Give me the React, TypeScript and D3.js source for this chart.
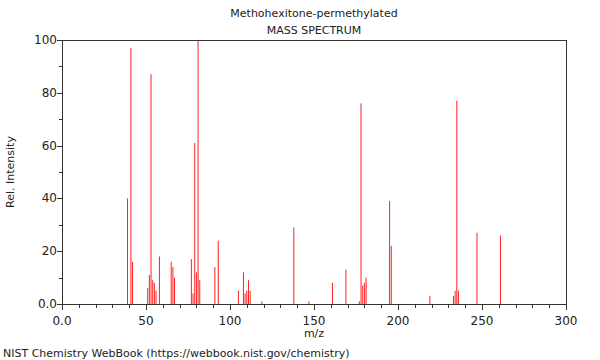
import React, { useRef, useEffect } from 'react';
import { select, scaleLinear, range } from 'd3';

// peaks: m/z and relative intensity
const mzValues = [39, 41, 42, 51, 52, 53, 54, 55, 56, 58, 65, 66, 67, 77, 78, 79, 80, 81, 82, 91, 93,
  105, 108, 109, 110, 111, 112, 119, 138, 147, 161, 169, 177, 178, 179, 180, 181, 195, 196,
  219, 233, 234, 235, 236, 247, 261];
const intensities = [40, 97, 16, 6, 11, 87, 9, 8, 5, 18, 16, 14, 10, 17, 4, 61, 12, 100, 9, 14, 24,
  5, 12, 4, 5, 9, 5, 1, 29, 1, 8, 13, 1, 76, 7, 8, 10, 39, 22,
  3, 3, 5, 77, 5, 27, 26];

const xMajor = [0, 50, 100, 150, 200, 250, 300];
const xLabels = ['0.0', '50', '100', '150', '200', '250', '300'];
const yMajor = [0, 20, 40, 60, 80, 100];
const yLabels = ['0.0', '20', '40', '60', '80', '100'];

const W = 600, H = 360;
const left = 62, right = 566, top = 40, bottom = 304;
const font = 'DejaVu Sans, sans-serif';

function Spectrum() {
  const svgRef = useRef(null);

  useEffect(() => {
    const svg = select(svgRef.current);
    svg.selectAll('*').remove();

    const x = scaleLinear().domain([0, 300]).range([left, right]);
    const y = scaleLinear().domain([0, 100]).range([bottom, top]);

    // peaks
    svg.append('g')
      .selectAll('line')
      .data(mzValues)
      .join('line')
      .attr('x1', d => x(d))
      .attr('x2', d => x(d))
      .attr('y1', y(0))
      .attr('y2', (d, i) => y(intensities[i]))
      .attr('stroke', '#ff2020')
      .attr('stroke-width', 1);

    // frame
    svg.append('rect')
      .attr('x', left + 0.5).attr('y', top + 0.5)
      .attr('width', right - left).attr('height', bottom - top)
      .attr('fill', 'none').attr('stroke', '#333').attr('stroke-width', 1);

    const ax = svg.append('g').attr('stroke', '#333').attr('stroke-width', 1);

    // x ticks, minor every 10
    ax.selectAll('.xt')
      .data(range(0, 301, 10))
      .join('line')
      .attr('x1', d => Math.round(x(d)) + 0.5)
      .attr('x2', d => Math.round(x(d)) + 0.5)
      .attr('y1', bottom + 0.5)
      .attr('y2', d => bottom + (d % 50 === 0 ? 6 : 4));

    // y ticks, minor every 10
    ax.selectAll('.yt')
      .data(range(0, 101, 10))
      .join('line')
      .attr('y1', d => Math.round(y(d)) + 0.5)
      .attr('y2', d => Math.round(y(d)) + 0.5)
      .attr('x1', left + 0.5)
      .attr('x2', d => left - (d % 20 === 0 ? 5 : 3));

    svg.append('g')
      .selectAll('text')
      .data(xMajor)
      .join('text')
      .attr('x', d => x(d))
      .attr('y', 325)
      .attr('text-anchor', 'middle')
      .attr('font-family', font)
      .attr('font-size', 12)
      .attr('fill', '#222')
      .text((d, i) => xLabels[i]);

    svg.append('g')
      .selectAll('text')
      .data(yMajor)
      .join('text')
      .attr('x', 57)
      .attr('y', d => y(d) + 4)
      .attr('text-anchor', 'end')
      .attr('font-family', font)
      .attr('font-size', 12)
      .attr('fill', '#222')
      .text((d, i) => yLabels[i]);

    const txt = (t, px, py, size, anchor = 'middle') =>
      svg.append('text')
        .attr('x', px).attr('y', py)
        .attr('text-anchor', anchor)
        .attr('font-family', font)
        .attr('font-size', size)
        .attr('fill', '#222')
        .text(t);

    txt('Methohexitone-permethylated', 314, 17, 11);
    txt('MASS SPECTRUM', 314, 34, 11);
    txt('m/z', 314, 337, 11);
    txt('NIST Chemistry WebBook (https://webbook.nist.gov/chemistry)', 3, 357, 11, 'start');
    txt('Rel. Intensity', 0, 0, 11)
      .attr('transform', `translate(14, ${(top + bottom) / 2}) rotate(-90)`);
  }, []);

  return <svg ref={svgRef} width={W} height={H} style={{ display: 'block', background: '#fff' }} />;
}

export default function App() {
  return (
    <div style={{ position: 'absolute', left: 0, top: 0 }}>
      <Spectrum />
    </div>
  );
}
